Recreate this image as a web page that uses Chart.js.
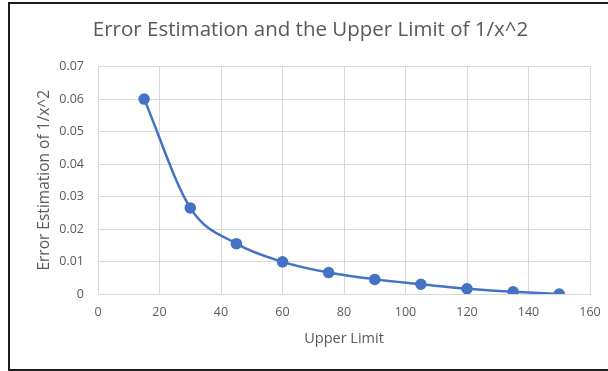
<!DOCTYPE html>
<html>
<head>
<meta charset="utf-8">
<script src="https://cdn.jsdelivr.net/npm/chart.js@4"></script>
<style>
  body { margin: 0; background: #fff; overflow: hidden; }
  #wrap { position: absolute; left: 0; top: 0; width: 608px; height: 371px; }
  #frame { position: absolute; left: 8px; top: 2px; width: 640px; height: 365px; border: 2px solid #1e1e1e; pointer-events: none; }
</style>
</head>
<body>
<div id="wrap"><canvas id="chart" width="608" height="371"></canvas></div>
<div id="frame"></div>
<script>
// data
let upperLimits=[15,30,45,60,75,90,105,120,135,150];
let errorEstimates=[0.06,0.0265,0.0155,0.0099,0.0066,0.0045,0.003,0.0016,0.0007,0];
let xTicks=[0,20,40,60,80,100,120,140,160];
let yTicks=[0,0.01,0.02,0.03,0.04,0.05,0.06,0.07];

let blue="#4472C4";
let grey="#595959";
let gridCol="#d9d9d9";
let fontFam="'Open Sans', sans-serif";

let points=upperLimits.map((x,i)=>({x:x,y:errorEstimates[i]}));

let ctx=document.getElementById("chart").getContext("2d");
let myChart=new Chart(ctx,{
  type:'scatter',
  data:{
    datasets:[{
      label:'Error Estimation',
      data:points,
      showLine:true,
      cubicInterpolationMode:'monotone',
      borderColor:blue,
      backgroundColor:blue,
      borderWidth:2.5,
      pointRadius:4.5,
      pointBackgroundColor:blue,
      pointBorderColor:blue
    }]
  },
  options:{
    responsive:false,
    animation:false,
    layout:{padding:{left:31,right:18,top:0,bottom:19}},
    plugins:{
      legend:{display:false},
      tooltip:{enabled:false},
      title:{
        display:true,
        text:'Error Estimation and the Upper Limit of 1/x^2',
        color:grey,
        font:{family:fontFam,size:20.5,weight:'normal'},
        padding:{top:18,bottom:24}
      }
    },
    scales:{
      x:{
        type:'linear',
        min:xTicks[0],
        max:xTicks[xTicks.length-1],
        afterBuildTicks:s=>{s.ticks=xTicks.map(v=>({value:v}));},
        afterFit:s=>{s.height=58;s.paddingLeft=0;s.paddingRight=0;},
        grid:{color:gridCol,drawTicks:false},
        border:{color:gridCol},
        ticks:{color:grey,font:{family:fontFam,size:12.5},padding:11,maxRotation:0},
        title:{display:true,text:'Upper Limit',color:grey,font:{family:fontFam,size:14.5}}
      },
      y:{
        min:yTicks[0],
        max:yTicks[yTicks.length-1],
        afterBuildTicks:s=>{s.ticks=yTicks.map(v=>({value:v}));},
        afterFit:s=>{s.width=67;},
        grid:{color:gridCol,drawTicks:false},
        border:{color:gridCol},
        ticks:{color:grey,font:{family:fontFam,size:12.5},padding:14,
          callback:v=>v===0?'0':v.toFixed(2)},
        title:{display:true,text:'Error Estimation of 1/x^2',color:grey,font:{family:fontFam,size:15.5}}
      }
    }
  }
});
</script>
</body>
</html>
